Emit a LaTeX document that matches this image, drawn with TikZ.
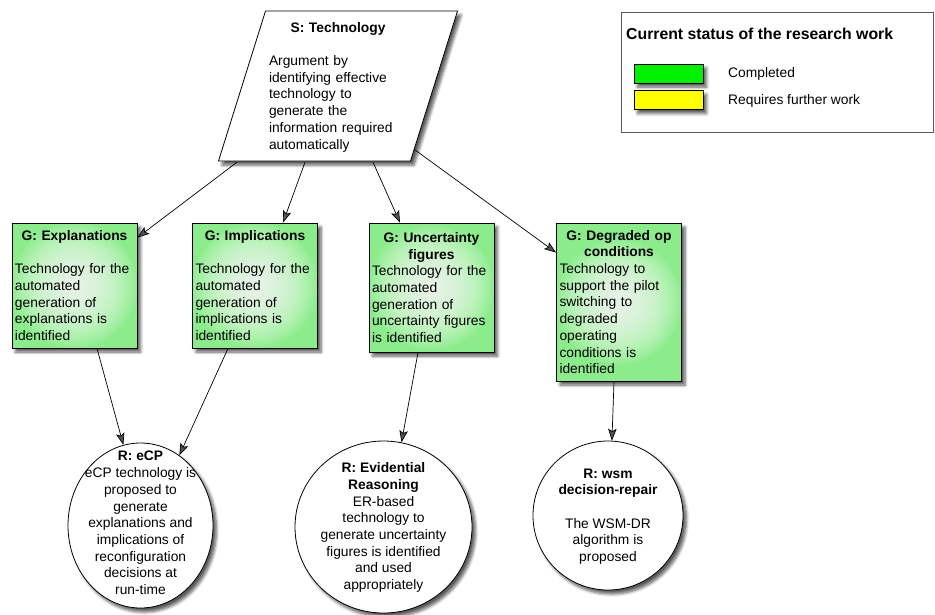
\documentclass[tikz,border=0pt]{standalone}
\usepackage{fontspec}
\setmainfont{Liberation Sans}
\usetikzlibrary{shadows.blur,arrows.meta,calc,shapes.geometric}
\definecolor{gedge}{RGB}{140,236,140}
\definecolor{donegreen}{RGB}{0,240,0}
\definecolor{todoyellow}{RGB}{255,255,0}

\begin{document}
\begin{tikzpicture}[x=1pt,y=1pt,
  txt/.style={font=\fontsize{13.8pt}{16.7pt}\selectfont},
  softshadow/.style={blur shadow={shadow xshift=3.5pt,shadow yshift=-4pt,shadow blur radius=3pt,shadow blur steps=6,shadow opacity=65}},
  % light green box whose centre fades to white
  goal/.style={txt,draw=black,line width=0.8pt,fill=gedge,softshadow,
    text width=119pt,inner sep=3pt,minimum height=#1,align=left,
    path picture={
      \foreach \k in {1,...,24}
        \fill[white,opacity=0.075] (path picture bounding box.center) circle ({2.6pt*\k});
    }},
  solution/.style={draw=black,line width=0.8pt,fill=white,softshadow,ellipse,inner sep=0pt},
  soltext/.style={txt,align=center,inner sep=0pt},
  link/.style={line width=0.7pt,-{Stealth[length=12pt,width=8.5pt,inset=2.5pt]}},
  swatch/.style={draw=black,line width=0.8pt,softshadow,minimum width=69pt,minimum height=19pt,inner sep=0pt},
  legendlabel/.style={txt,anchor=west,inner sep=0pt}
]
\useasboundingbox (0,0) rectangle (935,-614);

% strategy: parallelogram outline, then its text
\coordinate (P1) at (265.5,-11);
\coordinate (P2) at (457.5,-11);
\coordinate (P3) at (410.5,-161);
\coordinate (P4) at (218.5,-161);
\draw[fill=white,line width=0.8pt,softshadow] (P1) -- (P2) -- (P3) -- (P4) -- cycle;
\node[txt,text width=138pt,align=left,minimum width=192pt,minimum height=150pt,inner sep=0pt] (S) at (338,-87)
  {{\centering\bfseries S: Technology\par}\mbox{}\\Argument by\\identifying effective\\technology to\\generate the\\information required\\automatically};

% goals
\node[goal=125pt] (G1) at (74.5,-285.5)
  {{\centering\bfseries G: Explanations\par}\mbox{}\\Technology for the\\automated\\generation of\\explanations is\\identified};
\node[goal=125pt] (G2) at (255,-285.5)
  {{\centering\bfseries G: Implications\par}\mbox{}\\Technology for the\\automated\\generation of\\implications is\\identified};
\node[goal=129pt] (G3) at (431.5,-287.5)
  {{\centering\bfseries G: Uncertainty\\figures\par}Technology for the\\automated\\generation of\\uncertainty figures\\is identified};
\node[goal=158pt] (G4) at (619,-302)
  {{\centering\bfseries G: Degraded op\\conditions\par}Technology to\\support the pilot\\switching to\\degraded\\operating\\conditions is\\identified};

% solutions
\node[solution,minimum width=145pt,minimum height=165pt] (R1) at (140.5,-525.5) {};
\node[soltext] (R1t) at (140.5,-523)
  {\textbf{R: eCP}\\eCP technology is\\proposed to\\generate\\explanations and\\implications of\\reconfiguration\\decisions at\\run-time};
\node[solution,minimum width=177pt,minimum height=172pt] (R2) at (383.5,-527) {};
\node[soltext] (R2t) at (383.5,-527.5)
  {\textbf{R: Evidential}\\\textbf{Reasoning}\\ER-based\\technology to\\generate uncertainty\\figures is identified\\and used\\appropriately};
\node[solution,minimum width=150pt,minimum height=149pt] (R3) at (608,-515.5) {};
\node[soltext] (R3t) at (608,-516.5)
  {\textbf{R: wsm}\\\textbf{decision-repair}\\[16.7pt]The WSM-DR\\algorithm is\\proposed};

% legend
\node[draw=black!65,line width=0.8pt,minimum width=312pt,minimum height=120pt,inner sep=0pt] (legend) at (777,-72) {};
\node[anchor=west,inner sep=0pt,font=\fontsize{15.8pt}{18pt}\selectfont\bfseries] (legendtitle) at (626,-34)
  {Current status of the research work};
\node[swatch,fill=donegreen] (done) at (668.5,-73.5) {};
\node[swatch,fill=todoyellow] (todo) at (668.5,-100) {};
\node[legendlabel] (donelabel) at (728,-74) {Completed};
\node[legendlabel] (todolabel) at (728,-101) {Requires further work};

% connectors
\draw[link] ($(S.south)+(-101,0)$) -- ($(G1.north east)+(0,-15)$);
\draw[link] ($(S.south)+(-33,0)$) -- ($(G2.north)+(28,0)$);
\draw[link] ($(S.south)+(35,0)$) -- ($(G3.north)+(-31.5,0)$);
\draw[link] ($(S.south)+(76,13)$) -- ($(G4.north west)+(0,-30)$);
\draw[link] ($(G1.south)+(22.5,0)$) -- (R1.102);
\draw[link] ($(G2.south)+(-27,0)$) -- (R1.61);
\draw[link] ($(G3.south)+(-13.5,0)$) -- (R2.78);
\draw[link] ($(G4.south)+(-5,0)$) -- (R3.87);
\end{tikzpicture}
\end{document}
